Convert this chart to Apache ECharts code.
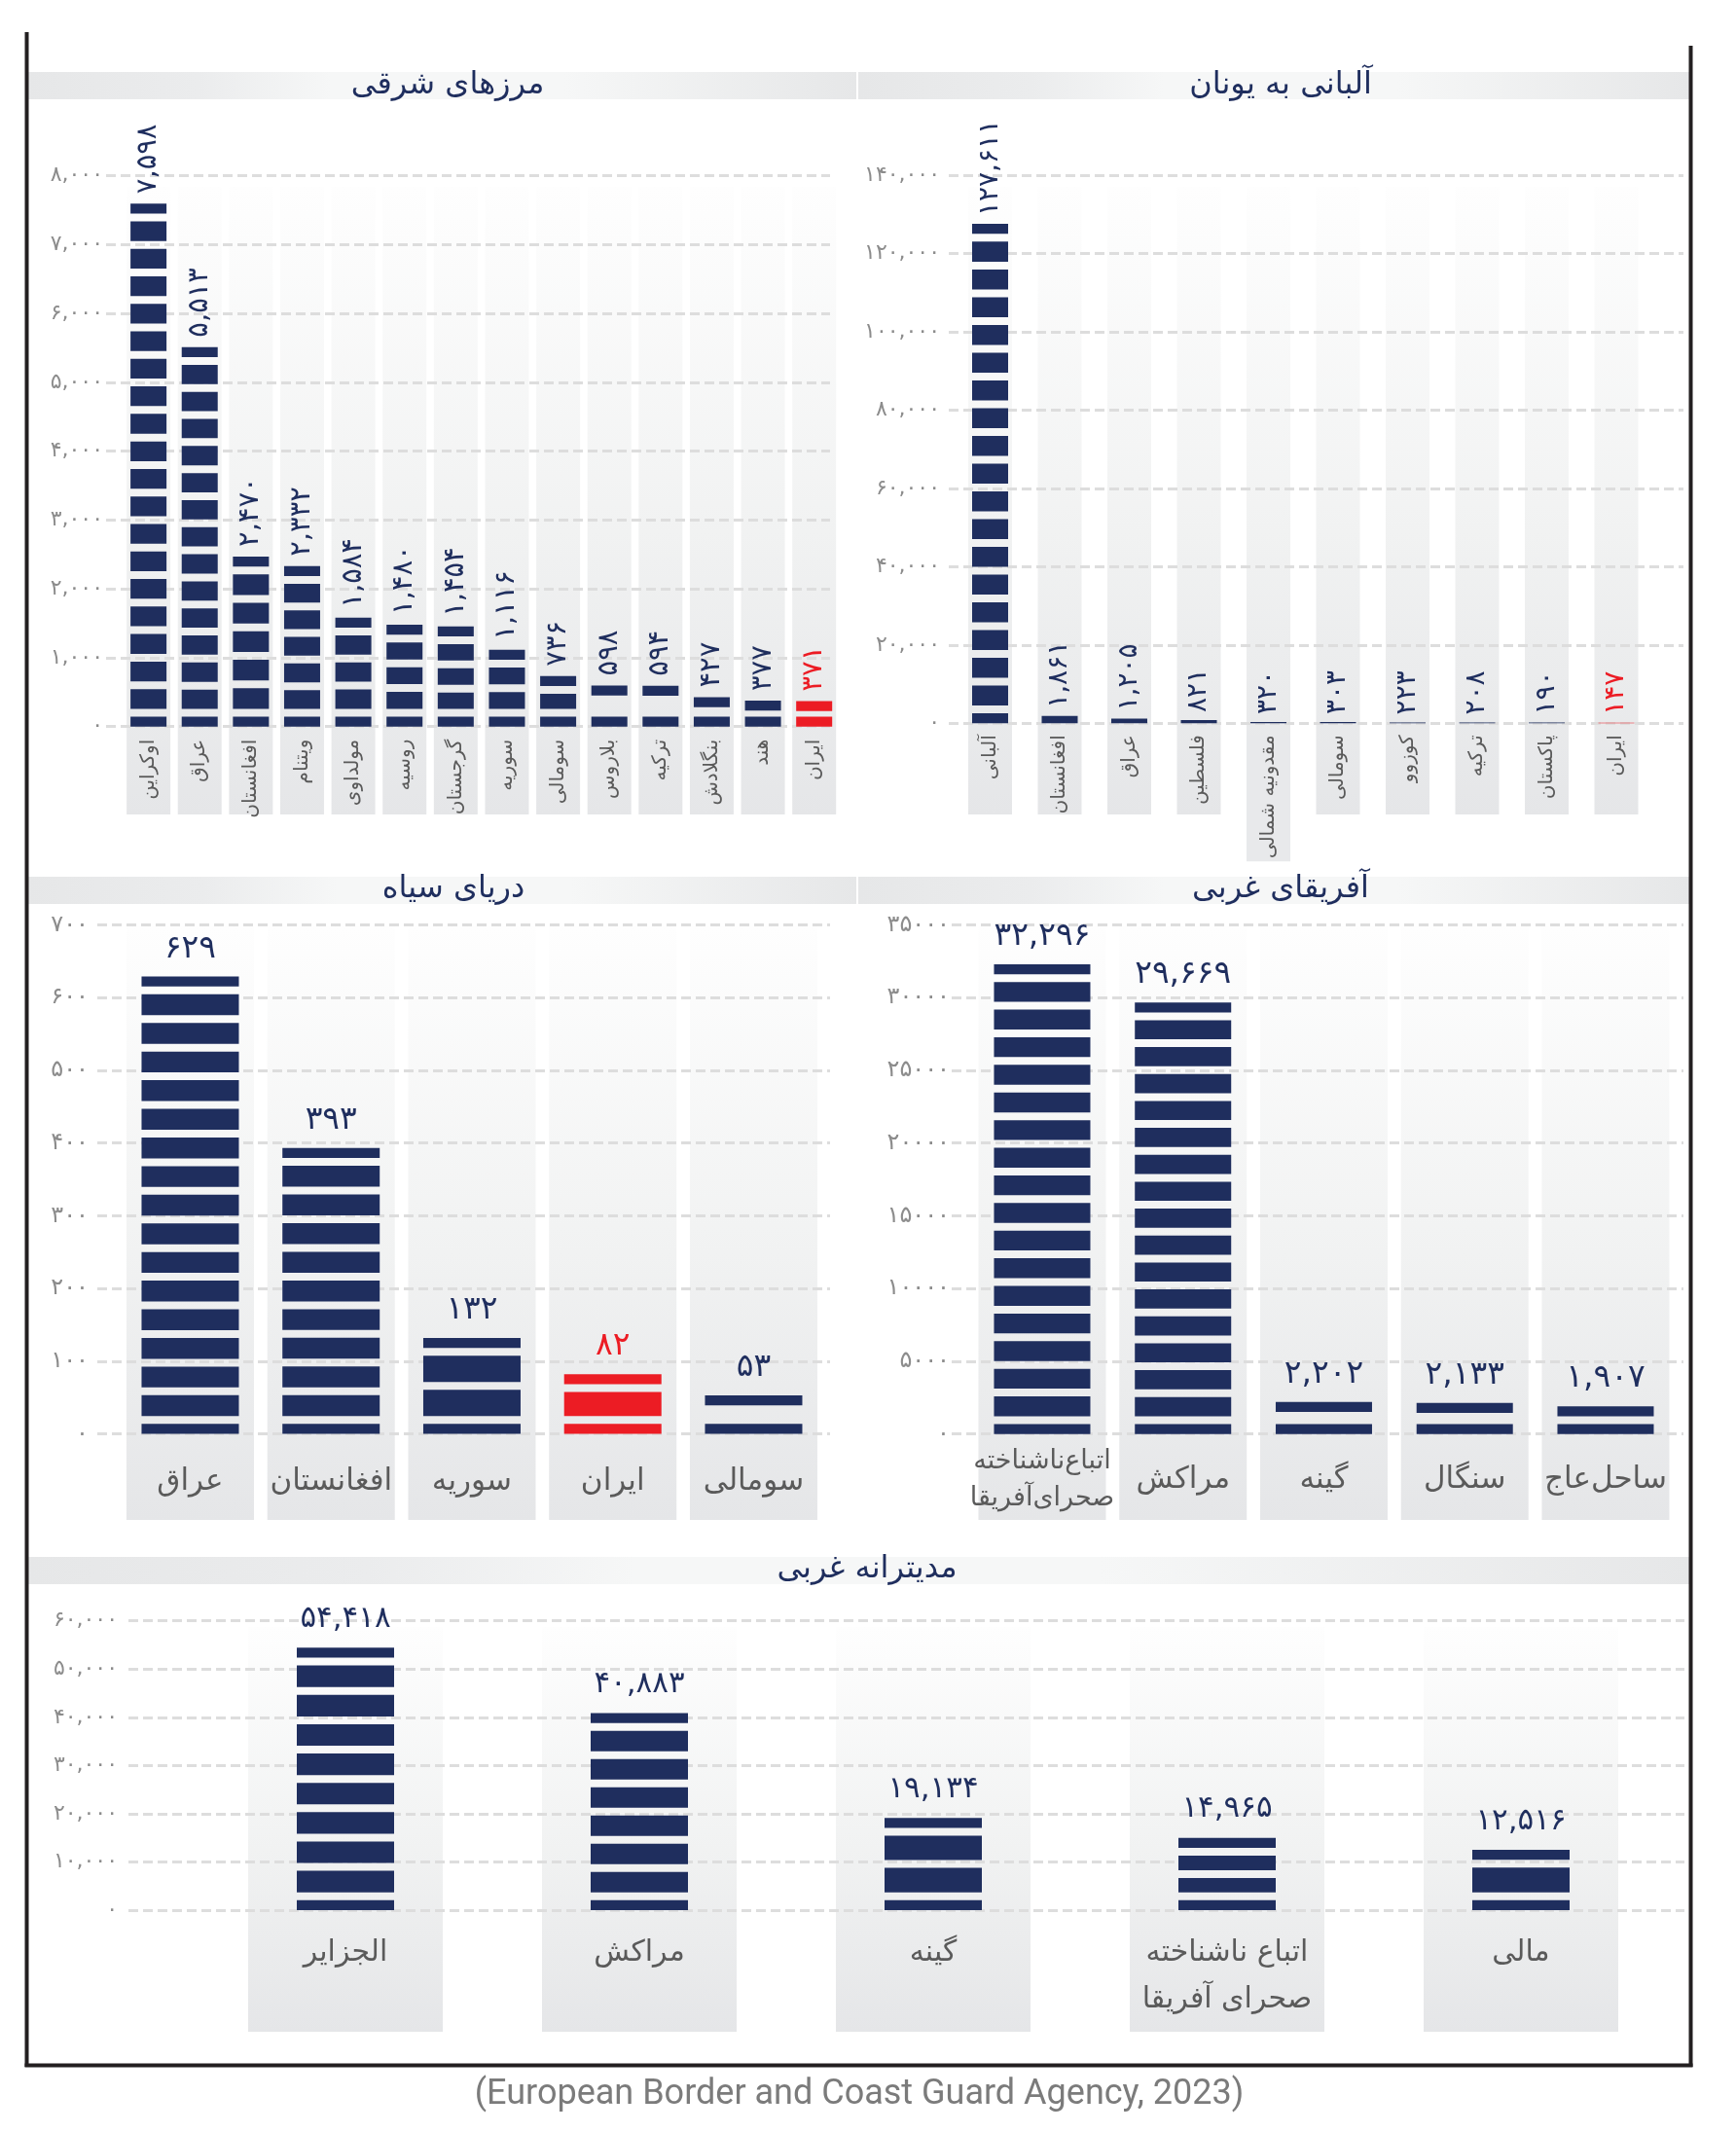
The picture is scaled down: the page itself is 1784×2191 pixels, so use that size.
<!DOCTYPE html>
<html><head><meta charset="utf-8">
<script src="https://cdn.jsdelivr.net/npm/echarts@6/dist/echarts.min.js"></script>
<style>html,body{margin:0;padding:0;background:#fff}#c{width:1784px;height:2191px}</style>
</head><body><div id="c"></div>
<script>
// ---------------- DATA ----------------
const eastTitle = 'مرزهای شرقی';
const eastCategories = ['اوکراین','عراق','افغانستان','ویتنام','مولداوی','روسیه','گرجستان','سوریه','سومالی','بلاروس','ترکیه','بنگلادش','هند','ایران'];
const eastValues = [7598,5513,2470,2332,1584,1480,1454,1116,736,598,594,427,377,371];
const eastTicks = [0,1000,2000,3000,4000,5000,6000,7000,8000];

const albaniaTitle = 'آلبانی به یونان';
const albaniaCategories = ['آلبانی','افغانستان','عراق','فلسطین','مقدونیه شمالی','سومالی','کوزوو','ترکیه','پاکستان','ایران'];
const albaniaValues = [127611,1861,1205,821,320,303,223,208,190,147];
const albaniaTicks = [0,20000,40000,60000,80000,100000,120000,140000];

const blackSeaTitle = 'دریای سیاه';
const blackSeaCategories = ['عراق','افغانستان','سوریه','ایران','سومالی'];
const blackSeaValues = [629,393,132,82,53];
const blackSeaTicks = [0,100,200,300,400,500,600,700];

const westAfricaTitle = 'آفریقای غربی';
const westAfricaCategories = ['اتباع\u200cناشناخته\nصحرای\u200cآفریقا','مراکش','گینه','سنگال','ساحل\u200cعاج'];
const westAfricaValues = [32296,29669,2202,2133,1907];
const westAfricaTicks = [0,5000,10000,15000,20000,25000,30000,35000];

const westMedTitle = 'مدیترانه غربی';
const westMedCategories = ['الجزایر','مراکش','گینه','اتباع ناشناخته\nصحرای آفریقا','مالی'];
const westMedValues = [54418,40883,19134,14965,12516];
const westMedTicks = [0,10000,20000,30000,40000,50000,60000];

const highlightCategory = 'ایران';
const sourceText = '(European Border and Coast Guard Agency, 2023)';

// ---------------- STYLE / LAYOUT ----------------
const NAVY = '#1f2e5e', RED = '#ec1c24', GRIDC = '#dddddd', YLAB = '#8c8c8c', XLAB = '#5a5a5a';
const FONT = '"DejaVu Sans", sans-serif';
const SEG = 20.5, GAP = 8;
const FA = '۰۱۲۳۴۵۶۷۸۹';
function fa(n, comma) {
  const s = comma ? Number(n).toLocaleString('en-US') : String(n);
  return s.replace(/\d/g, d => FA[+d]);
}

const panels = [
  { title: eastTitle, cats: eastCategories, vals: eastValues, ticks: eastTicks, comma: true, yComma: true,
    main: {left: 126.3, width: 736.7, top: 180.7, height: 566}, lines: {left: 109, width: 744},
    bg: {top: 192, height: 645}, barW: 37, colW: 45, rotate: true, xFont: 20, xMargin: 13,
    valFont: 29, valDist: 10, yFont: 22, yMargin: 3, tx: 460, ty: 88 },
  { title: albaniaTitle, cats: albaniaCategories, vals: albaniaValues, ticks: albaniaTicks, comma: true, yComma: true,
    main: {left: 981.75, width: 715, top: 180.3, height: 563}, lines: {left: 975, width: 755},
    bg: {top: 192, height: 645}, barW: 37, colW: 45, rotate: true, xFont: 20, xMargin: 12,
    valFont: 28, valDist: 8, yFont: 22, yMargin: 9, tx: 1316, ty: 88 },
  { title: blackSeaTitle, cats: blackSeaCategories, vals: blackSeaValues, ticks: blackSeaTicks, comma: true, yComma: true,
    main: {left: 123.1, width: 723.75, top: 950.5, height: 523}, lines: {left: 100, width: 753},
    bg: {top: 952, height: 610}, barW: 100, colW: 131, rotate: false, xFont: 31, xMargin: 49, xVA: 'middle', lineH: 38,
    valFont: 33, valDist: 12, yFont: 24, yMargin: 9, tx: 466, ty: 914 },
  { title: westAfricaTitle, cats: westAfricaCategories, vals: westAfricaValues, ticks: westAfricaTicks, comma: true, yComma: false,
    main: {left: 998.6, width: 723.75, top: 950.5, height: 523.2}, lines: {left: 978, width: 752},
    bg: {top: 952, height: 610}, barW: 99, colW: 131, rotate: false, xFont: 31, xMargin: 47, xVA: 'middle', lineH: 38, smallFont: 27,
    valFont: 33, valDist: 12, yFont: 24, yMargin: 2, tx: 1316, ty: 914 },
  { title: westMedTitle, cats: westMedCategories, vals: westMedValues, ticks: westMedTicks, comma: true, yComma: true,
    main: {left: 204, width: 1510, top: 1665.7, height: 297.3}, lines: {left: 132, width: 1599},
    bg: {top: 1672, height: 416}, barW: 100, colW: 200, rotate: false, xFont: 30, xMargin: 20, xVA: 'top', lineH: 48,
    valFont: 31, valDist: 14, yFont: 22, yMargin: 11, tx: 891, ty: 1613 }
];

const option = { animation: false, backgroundColor: '#ffffff', grid: [], xAxis: [], yAxis: [], series: [], graphic: [] };

function colGradient() {
  return new echarts.graphic.LinearGradient(0, 0, 0, 1, [
    {offset: 0, color: '#fefefe'}, {offset: 0.55, color: '#f1f2f2'}, {offset: 1, color: '#e5e6e8'}
  ]);
}

// stripe pieces (in px measured upward from the baseline) for a bar of pixel height h
function stripePieces(h) {
  if (h <= SEG + 3) return [[0, h]];
  const half = SEG / 2;
  const m = Math.max(0, Math.round((h - SEG - GAP) / (SEG + GAP)));
  const pieces = [[0, half]];
  if (m > 0) {
    const inner = (h - SEG - (m + 1) * GAP) / m;
    let y = half + GAP;
    for (let j = 0; j < m; j++) { pieces.push([y, y + inner]); y += inner + GAP; }
  }
  pieces.push([h - half, h]);
  return pieces;
}

panels.forEach((p, k) => {
  const min = p.ticks[0], max = p.ticks[p.ticks.length - 1], interval = p.ticks[1] - p.ticks[0];
  const b = 3 * k;
  option.grid.push({left: p.main.left, width: p.main.width, top: p.bg.top, height: p.bg.height, outerBoundsMode: 'none'});
  option.grid.push({left: p.main.left, width: p.main.width, top: p.main.top, height: p.main.height, outerBoundsMode: 'none'});
  option.grid.push({left: p.lines.left, width: p.lines.width, top: p.main.top, height: p.main.height, outerBoundsMode: 'none'});

  option.xAxis.push({gridIndex: b, type: 'category', data: p.cats, show: false});
  option.yAxis.push({gridIndex: b, type: 'value', min: 0, max: max, show: false, splitLine: {show: false}});
  let xLabel;
  if (p.rotate) {
    xLabel = {interval: 0, rotate: 90, margin: p.xMargin, fontSize: p.xFont, fontFamily: FONT, color: XLAB,
      formatter: v => v === 'مقدونیه شمالی' ? '{m|' + v + '}' : v,
      rich: {m: {fontSize: p.xFont, fontFamily: FONT, color: XLAB, backgroundColor: '#e8e9eb', height: 45, lineHeight: 45, padding: [0, 0, 0, 3]}}};
  } else {
    xLabel = {interval: 0, margin: p.xMargin, fontSize: p.xFont, fontFamily: FONT, color: XLAB, lineHeight: p.lineH,
      verticalAlign: p.xVA,
      formatter: v => (p.smallFont && v.indexOf('\n') >= 0) ? v.split('\n').map(l => '{s|' + l + '}').join('\n') : v,
      rich: {s: {fontSize: p.smallFont || p.xFont, fontFamily: FONT, color: XLAB, lineHeight: p.lineH}}};
  }
  option.xAxis.push({gridIndex: b + 1, type: 'category', data: p.cats, z: 3,
    axisLine: {show: false}, axisTick: {show: false}, splitLine: {show: false}, axisLabel: xLabel});
  option.yAxis.push({gridIndex: b + 1, type: 'value', min: min, max: max, interval: interval, show: false, splitLine: {show: false}});
  option.xAxis.push({gridIndex: b + 2, type: 'value', min: 0, max: 1, show: false, splitLine: {show: false}});
  option.yAxis.push({gridIndex: b + 2, type: 'value', min: min, max: max, interval: interval, z: 1,
    axisLine: {show: false}, axisTick: {show: false},
    axisLabel: {margin: p.yMargin, fontSize: p.yFont, fontFamily: FONT, color: YLAB, formatter: v => fa(v, p.yComma)},
    splitLine: {show: true, lineStyle: {color: GRIDC, width: 3, type: [10, 5]}}});

  option.series.push({type: 'bar', xAxisIndex: b, yAxisIndex: b, z: 0, silent: true, barWidth: p.colW,
    data: p.vals, itemStyle: {color: 'rgba(0,0,0,0)'},
    showBackground: true, backgroundStyle: {color: colGradient()}});

  option.series.push({type: 'custom', xAxisIndex: b + 1, yAxisIndex: b + 1, z: 3, silent: true,
    data: p.vals.map((v, i) => [i, v]),
    encode: {x: 0, y: 1},
    renderItem: (params, api) => {
      const val = api.value(1);
      const base = api.coord([api.value(0), 0]);
      const top = api.coord([api.value(0), val]);
      const h = base[1] - top[1];
      const x = base[0] - p.barW / 2;
      const fill = p.cats[params.dataIndex] === highlightCategory ? RED : NAVY;
      const children = stripePieces(h).map(([y0, y1]) => ({type: 'rect',
        shape: {x: x, y: base[1] - y1, width: p.barW, height: y1 - y0}, style: {fill: fill}}));
      children.push({type: 'text', x: base[0], y: top[1] - p.valDist, rotation: p.rotate ? Math.PI / 2 : 0,
        style: {text: fa(val, p.comma), fill: fill, fontSize: p.valFont, fontFamily: FONT,
          align: p.rotate ? 'left' : 'center', verticalAlign: p.rotate ? 'middle' : 'bottom'}});
      return {type: 'group', children: children};
    }});

  option.graphic.push({type: 'text', z: 10, silent: true, x: p.tx, y: p.ty,
    style: {text: p.title, fill: NAVY, fontSize: 32, fontFamily: FONT, align: 'center', verticalAlign: 'middle'}});
});

function band(x0, x1, y0, y1, tc) {
  const w = x1 - x0, f = (tc - x0) / w;
  const c = v => Math.min(0.999, Math.max(0.001, v));
  return {type: 'rect', z: -10, silent: true, shape: {x: x0, y: y0, width: w, height: y1 - y0},
    style: {fill: new echarts.graphic.LinearGradient(0, 0, 1, 0, [
      {offset: 0, color: '#e6e7e8'}, {offset: c(f - 0.3), color: '#ebeced'}, {offset: c(f - 0.14), color: '#f6f7f7'},
      {offset: c(f + 0.14), color: '#f6f7f7'}, {offset: 1, color: '#e6e7e8'}])}};
}
option.graphic.push(band(28, 880, 74, 102, 460));
option.graphic.push(band(882, 1736, 74, 102, 1316));
option.graphic.push(band(28, 880, 901, 929, 466));
option.graphic.push(band(882, 1736, 901, 929, 1316));
option.graphic.push(band(28, 1736, 1600, 1628, 891));

const FR = '#231f20';
option.graphic.push({type: 'line', silent: true, z: 20, shape: {x1: 27.5, y1: 33, x2: 27.5, y2: 2124}, style: {stroke: FR, lineWidth: 4}});
option.graphic.push({type: 'line', silent: true, z: 20, shape: {x1: 1737.5, y1: 47, x2: 1737.5, y2: 2124}, style: {stroke: FR, lineWidth: 4}});
option.graphic.push({type: 'line', silent: true, z: 20, shape: {x1: 25.5, y1: 2122.5, x2: 1739.5, y2: 2122.5}, style: {stroke: FR, lineWidth: 4}});
option.graphic.push({type: 'text', silent: true, x: 883, y: 2153,
  style: {text: sourceText, fill: '#7b7b7b', fontSize: 36, fontFamily: 'Roboto, sans-serif', align: 'center', verticalAlign: 'middle'}});

const chart = echarts.init(document.getElementById('c'), null, {renderer: 'canvas', width: 1784, height: 2191});
chart.setOption(option);
</script></body></html>
